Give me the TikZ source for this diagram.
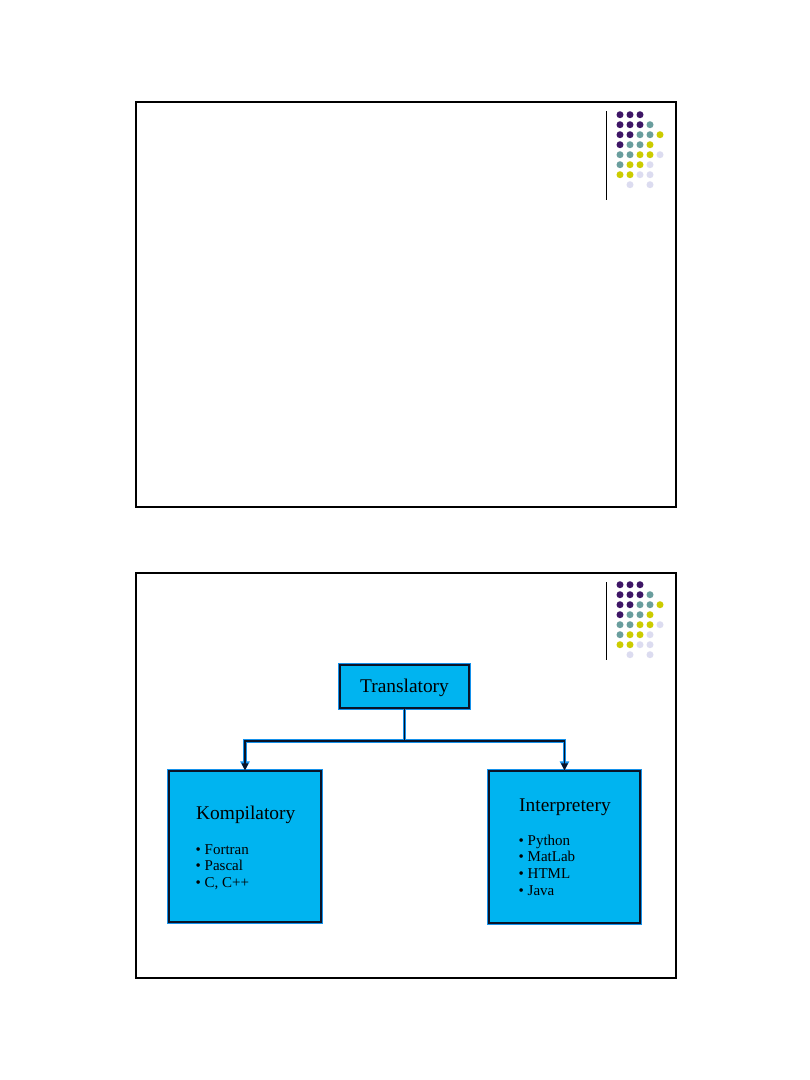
\documentclass[tikz,border=0pt]{standalone}
\usepackage{fontspec}
\setmainfont{Liberation Serif}
\usetikzlibrary{arrows.meta}
\definecolor{dotP}{RGB}{62,22,102}
\definecolor{dotT}{RGB}{106,158,158}
\definecolor{dotY}{RGB}{204,204,0}
\definecolor{dotL}{RGB}{220,220,240}
\definecolor{boxblue}{RGB}{0,180,240}
\definecolor{glowblue}{RGB}{20,145,235}
\definecolor{boxline}{RGB}{10,20,40}
\newcommand\logodots[1]{%
  \foreach \c/\r/\col in {0/0/P,1/0/P,2/0/P,
    0/1/P,1/1/P,2/1/P,3/1/T,
    0/2/P,1/2/P,2/2/T,3/2/T,4/2/Y,
    0/3/P,1/3/T,2/3/T,3/3/Y,
    0/4/T,1/4/T,2/4/Y,3/4/Y,4/4/L,
    0/5/T,1/5/Y,2/5/Y,3/5/L,
    0/6/Y,1/6/Y,2/6/L,3/6/L,
    1/7/L,3/7/L}{
    \fill[dot\col] (620+10*\c, #1+10*\r) circle[radius=3.5];
  }%
}
\begin{document}
\begin{tikzpicture}[x=1pt,y=-1pt,
  frame/.style={draw=black,line width=1.3pt},
  box/.style={draw=boxline,line width=1.1pt,fill=boxblue,
    preaction={draw=glowblue,line width=3.2pt},inner sep=0pt},
  head/.style={font=\fontsize{19.4}{19}\selectfont,anchor=base west,inner sep=0pt},
  item/.style={font=\fontsize{15}{15}\selectfont,anchor=base west,inner sep=0pt},
  glowline/.style={draw=glowblue,line width=3.6pt},
  darkline/.style={draw=boxline,line width=1.1pt},
  gtip/.style={-{Triangle[length=9pt,width=9pt]}},
  dtip/.style={-{Triangle[length=7pt,width=6.5pt]}}
]
\useasboundingbox (0,0) rectangle (810,1080);
\fill[white] (0,0) rectangle (810,1080);

% top slide
\draw[frame] (136,102) rectangle (676,507);
\draw[line width=0.9pt] (606,111) -- (606,200);
\logodots{114.7}

% bottom slide
\draw[frame] (136,573) rectangle (676,978);
\draw[line width=0.9pt] (606,582) -- (606,660);
\logodots{584.7}

% boxes
\node[box,minimum width=129pt,minimum height=43pt] (T) at (404.5,686.5) {};
\node[font=\fontsize{19.4}{19}\selectfont,inner sep=0pt] (Tt) at (404.5,687.5) {Translatory};

\node[box,minimum width=152pt,minimum height=151pt] (K) at (245,846.5) {};
\node[head] (Kh) at (196,819.3) {Kompilatory};
\node[item] (K1) at (195.5,854.3) {\textbullet\ Fortran};
\node[item] (K2) at (195.5,870.8) {\textbullet\ Pascal};
\node[item] (K3) at (195.5,887) {\textbullet\ C, C++};

\node[box,minimum width=151pt,minimum height=152pt] (I) at (564.5,847) {};
\node[head] (Ih) at (519,811.7) {Interpretery};
\node[item] (I1) at (518.5,845) {\textbullet\ Python};
\node[item] (I2) at (518.5,861.8) {\textbullet\ MatLab};
\node[item] (I3) at (518.5,878.6) {\textbullet\ HTML};
\node[item] (I4) at (518.5,895.3) {\textbullet\ Java};

% connectors
\coordinate (J) at (404.5,741);
\draw[glowline] (T.south) -- (J);
\draw[glowline,gtip] (J) -| (K.north);
\draw[glowline,gtip] (J) -| (I.north);
\draw[darkline] (T.south) -- (J);
\draw[darkline,dtip] (J) -| (K.north);
\draw[darkline,dtip] (J) -| (I.north);
\end{tikzpicture}
\end{document}
